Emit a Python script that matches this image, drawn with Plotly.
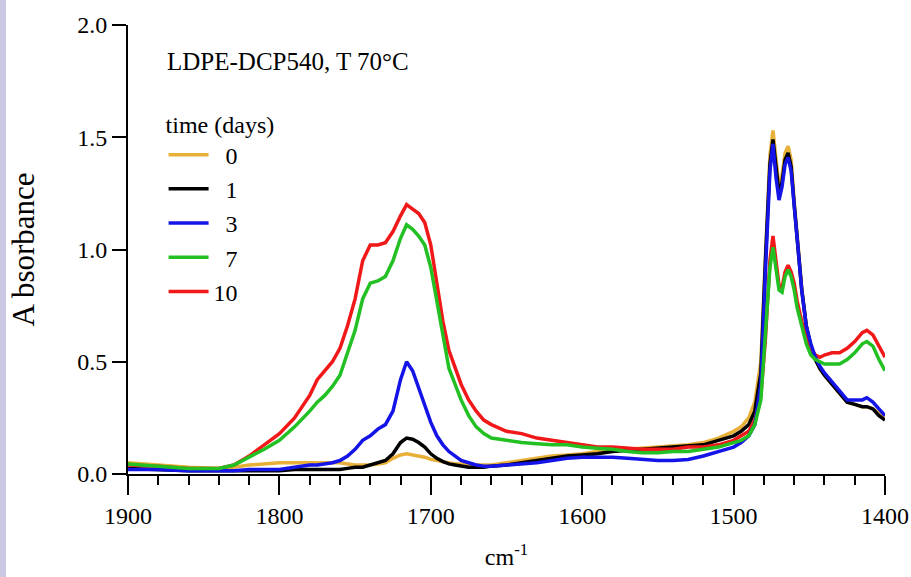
import plotly.graph_objects as go

wavenumber = [1900, 1880, 1860, 1840, 1830, 1820, 1810, 1800, 1790, 1780, 1775, 1770, 1765, 1760, 1755,
              1750, 1745, 1740, 1735, 1730, 1725, 1720, 1716, 1712, 1708, 1704, 1700, 1696, 1692, 1688,
              1684, 1680, 1675, 1670, 1665, 1660, 1650, 1640, 1630, 1620, 1610, 1600, 1590, 1580, 1570,
              1560, 1550, 1540, 1530, 1520, 1510, 1500, 1495, 1490, 1486, 1482, 1479, 1476, 1474, 1472,
              1470, 1468, 1466, 1464, 1462, 1460, 1458, 1455, 1452, 1449, 1446, 1443, 1440, 1435, 1430,
              1425, 1420, 1415, 1412, 1408, 1404, 1400]

abs_day0 = [0.05, 0.04, 0.03, 0.025, 0.03, 0.04, 0.045, 0.05, 0.05, 0.05, 0.05, 0.05, 0.05, 0.05, 0.045,
            0.04, 0.04, 0.04, 0.045, 0.05, 0.07, 0.085, 0.09, 0.085, 0.08, 0.075, 0.065, 0.06, 0.055, 0.05,
            0.045, 0.045, 0.04, 0.04, 0.04, 0.04, 0.05, 0.06, 0.07, 0.08, 0.085, 0.09, 0.10, 0.105, 0.11,
            0.115, 0.12, 0.125, 0.13, 0.14, 0.16, 0.19, 0.21, 0.25, 0.32, 0.50, 1.00, 1.42, 1.53, 1.40,
            1.28, 1.33, 1.43, 1.46, 1.40, 1.22, 1.07, 0.83, 0.66, 0.57, 0.51, 0.47, 0.44, 0.40, 0.36,
            0.32, 0.31, 0.30, 0.30, 0.29, 0.27, 0.25]

abs_day1 = [0.025, 0.02, 0.015, 0.015, 0.015, 0.015, 0.015, 0.015, 0.02, 0.02, 0.02, 0.02, 0.02, 0.02, 0.025,
            0.03, 0.03, 0.04, 0.05, 0.06, 0.09, 0.14, 0.16, 0.155, 0.14, 0.12, 0.09, 0.07, 0.055, 0.045,
            0.04, 0.035, 0.03, 0.03, 0.03, 0.035, 0.04, 0.05, 0.06, 0.07, 0.08, 0.085, 0.09, 0.10, 0.105,
            0.11, 0.115, 0.12, 0.125, 0.13, 0.15, 0.17, 0.19, 0.22, 0.28, 0.45, 0.95, 1.38, 1.49, 1.36,
            1.25, 1.30, 1.40, 1.43, 1.37, 1.20, 1.05, 0.82, 0.66, 0.57, 0.51, 0.47, 0.44, 0.40, 0.36,
            0.32, 0.31, 0.30, 0.30, 0.29, 0.26, 0.24]

abs_day3 = [0.02, 0.02, 0.015, 0.015, 0.015, 0.02, 0.02, 0.02, 0.03, 0.04, 0.04, 0.045, 0.05, 0.06, 0.08,
            0.11, 0.15, 0.17, 0.20, 0.22, 0.28, 0.42, 0.50, 0.46, 0.38, 0.30, 0.23, 0.17, 0.13, 0.10,
            0.08, 0.06, 0.05, 0.04, 0.035, 0.035, 0.04, 0.045, 0.05, 0.06, 0.07, 0.075, 0.075, 0.075, 0.07,
            0.065, 0.06, 0.06, 0.065, 0.08, 0.10, 0.12, 0.14, 0.17, 0.22, 0.40, 0.90, 1.35, 1.47, 1.32,
            1.22, 1.28, 1.38, 1.41, 1.35, 1.18, 1.05, 0.82, 0.66, 0.58, 0.52, 0.48, 0.45, 0.41, 0.37,
            0.33, 0.33, 0.33, 0.34, 0.32, 0.29, 0.26]

abs_day7 = [0.045, 0.035, 0.025, 0.025, 0.04, 0.075, 0.11, 0.15, 0.21, 0.28, 0.32, 0.35, 0.39, 0.44, 0.54,
            0.64, 0.78, 0.85, 0.86, 0.88, 0.95, 1.05, 1.11, 1.09, 1.06, 1.02, 0.92, 0.77, 0.60, 0.47,
            0.40, 0.33, 0.26, 0.21, 0.18, 0.16, 0.15, 0.14, 0.135, 0.13, 0.13, 0.12, 0.115, 0.11, 0.10,
            0.095, 0.095, 0.10, 0.10, 0.11, 0.12, 0.14, 0.15, 0.17, 0.22, 0.33, 0.60, 0.92, 1.01, 0.92,
            0.82, 0.81, 0.88, 0.91, 0.88, 0.82, 0.74, 0.66, 0.58, 0.53, 0.51, 0.50, 0.49, 0.49, 0.49,
            0.51, 0.54, 0.58, 0.59, 0.57, 0.51, 0.46]

abs_day10 = [0.04, 0.035, 0.025, 0.025, 0.04, 0.08, 0.13, 0.18, 0.25, 0.35, 0.42, 0.46, 0.50, 0.56, 0.66,
             0.78, 0.95, 1.02, 1.02, 1.03, 1.08, 1.15, 1.20, 1.18, 1.16, 1.12, 1.02, 0.85, 0.68, 0.55,
             0.47, 0.40, 0.33, 0.28, 0.24, 0.22, 0.19, 0.18, 0.16, 0.15, 0.14, 0.13, 0.12, 0.12, 0.115,
             0.11, 0.11, 0.11, 0.12, 0.12, 0.13, 0.15, 0.17, 0.19, 0.24, 0.35, 0.60, 0.95, 1.06, 0.95,
             0.84, 0.83, 0.90, 0.93, 0.90, 0.85, 0.77, 0.68, 0.61, 0.56, 0.53, 0.52, 0.53, 0.54, 0.54,
             0.56, 0.59, 0.63, 0.64, 0.62, 0.57, 0.52]

days = ["0", "1", "3", "7", "10"]
series = [abs_day0, abs_day1, abs_day3, abs_day7, abs_day10]
colors = ["#E8B038", "#000000", "#1414E6", "#22C022", "#F01818"]
draw_order = [0, 1, 4, 2, 3]
x_ticks = [1900, 1800, 1700, 1600, 1500, 1400]
y_ticks = [0.0, 0.5, 1.0, 1.5, 2.0]

FONT = "Liberation Serif"

fig = go.Figure()
for i in draw_order:
    label = days[i] if len(days[i]) > 1 else "\u00a0\u00a0" + days[i]
    fig.add_trace(go.Scatter(
        x=wavenumber, y=series[i], mode="lines", name=label,
        line=dict(color=colors[i], width=3.5),
        legendrank=i + 1,
    ))

fig.update_layout(
    width=911, height=577,
    margin=dict(l=128, r=26, t=25, b=103, autoexpand=False),
    paper_bgcolor="white", plot_bgcolor="white",
    font=dict(family=FONT, size=24, color="black"),
    showlegend=True,
    legend=dict(
        title=dict(text="time (days)", font=dict(family=FONT, size=24)),
        x=0.047, y=0.83, xanchor="left", yanchor="top",
        bgcolor="rgba(0,0,0,0)", borderwidth=0,
        font=dict(family=FONT, size=24),
        tracegroupgap=0, itemwidth=40,
    ),
    xaxis=dict(
        range=[1900, 1400], tickvals=x_ticks, ticktext=[str(v) for v in x_ticks],
        automargin=False,
        showgrid=False, zeroline=False, showline=True, linecolor="black", linewidth=2,
        ticks="outside", ticklen=19, tickwidth=2, tickcolor="black",
        minor=dict(dtick=20, ticks="outside", ticklen=9, tickwidth=2, tickcolor="black", showgrid=False),
        tickfont=dict(family=FONT, size=24),
        title=dict(text="cm<sup>-1</sup>", font=dict(family=FONT, size=24), standoff=20),
    ),
    yaxis=dict(
        range=[0, 2], tickvals=y_ticks, ticktext=["%.1f" % v for v in y_ticks],
        automargin=False,
        showgrid=False, zeroline=False, showline=True, linecolor="black", linewidth=2,
        ticks="outside", ticklen=14, tickwidth=2, tickcolor="black",
        tickfont=dict(family=FONT, size=24),
        title=dict(text="A bsorbance", font=dict(family=FONT, size=31), standoff=33),
    ),
    annotations=[dict(
        text="LDPE-DCP540, T 70\u00b0C", xref="paper", yref="paper",
        x=0.049, y=0.918, xanchor="left", yanchor="middle", showarrow=False,
        font=dict(family=FONT, size=25, color="black"),
    )],
    shapes=[dict(
        type="rect", xref="paper", yref="paper",
        x0=-128 / 757, x1=-122 / 757, y0=-103 / 449, y1=(449 + 25) / 449,
        fillcolor="#C9C9E3", line=dict(width=0), layer="below",
    )],
)

fig.write_html("out.html")
